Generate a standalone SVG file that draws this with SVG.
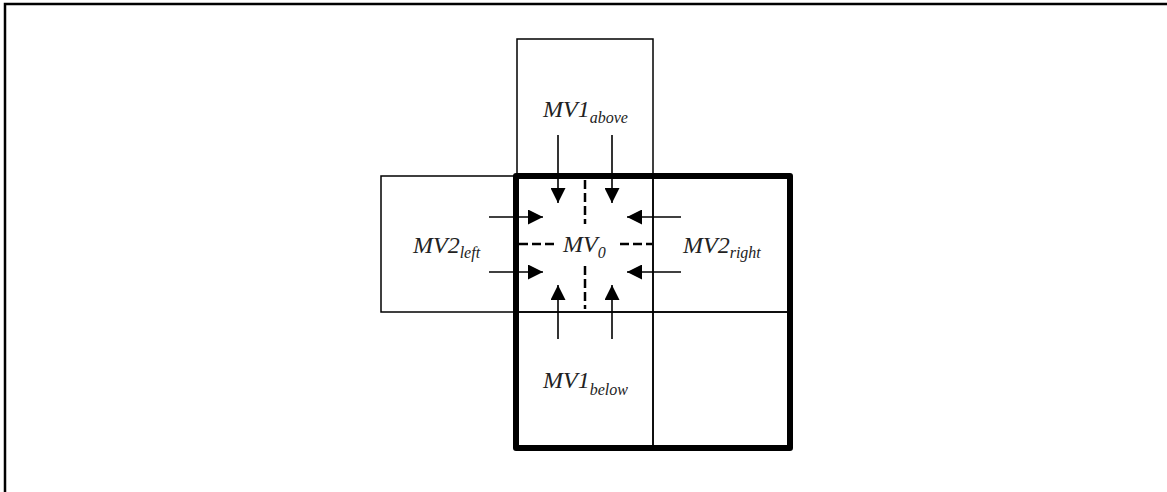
<svg xmlns="http://www.w3.org/2000/svg" width="1167" height="492" viewBox="0 0 1167 492">
<defs>
<style>
.thin{fill:none;stroke:#000;stroke-width:1.5}
.thick{fill:none;stroke:#000;stroke-width:6;stroke-linejoin:round}
.dash{fill:none;stroke:#000;stroke-width:2.5;stroke-dasharray:9 4}
.arr{fill:none;stroke:#000;stroke-width:1.6;marker-end:url(#ah)}
.lbl{font-family:"Liberation Serif","Times New Roman",serif;font-style:italic;font-size:24px;fill:#222}
.sub{font-size:16px}
</style>
<marker id="ah" viewBox="0 0 10 10" refX="10" refY="5" markerWidth="15" markerHeight="15" markerUnits="userSpaceOnUse" orient="auto">
<path d="M0,0 L10,5 L0,10 Z" fill="#000"/>
</marker>
</defs>
<rect width="1167" height="492" fill="#fff"/>
<path d="M5,492 V4 H1167" fill="none" stroke="#000" stroke-width="2.5"/>

<g id="above">
<rect class="thin" x="517" y="39" width="136" height="137"/>
<text class="lbl" x="543" y="117">MV1<tspan class="sub" dy="6">above</tspan></text>
</g>
<g id="left">
<rect class="thin" x="381" y="176" width="135" height="136"/>
<text class="lbl" x="413" y="253">MV2<tspan class="sub" dy="5">left</tspan></text>
</g>
<g id="right">
<rect class="thin" x="653" y="176" width="137" height="136"/>
<text class="lbl" x="683" y="253">MV2<tspan class="sub" dy="5">right</tspan></text>
</g>
<g id="below">
<rect class="thin" x="516" y="312" width="137" height="136"/>
<text class="lbl" x="543" y="388">MV1<tspan class="sub" dy="7">below</tspan></text>
</g>
<g id="belowright">
<rect class="thin" x="653" y="312" width="137" height="136"/>
</g>
<g id="current">
<rect class="thin" x="516" y="176" width="137" height="136"/>
<path class="dash" d="M585,180 V224 M585,266 V309"/>
<path class="dash" d="M519,244 H556 M620,244 H652"/>
<text class="lbl" x="563" y="252">MV<tspan class="sub" dy="6">0</tspan></text>
</g>
<g id="block">
<rect class="thick" x="516" y="176" width="274" height="272"/>
</g>

<g id="connectors">
<line class="arr" x1="558" y1="135" x2="558" y2="203"/>
<line class="arr" x1="612" y1="135" x2="612" y2="203"/>
<line class="arr" x1="489" y1="217" x2="543" y2="217"/>
<line class="arr" x1="489" y1="272" x2="543" y2="272"/>
<line class="arr" x1="681" y1="217" x2="627" y2="217"/>
<line class="arr" x1="681" y1="272" x2="627" y2="272"/>
<line class="arr" x1="558" y1="339" x2="558" y2="285"/>
<line class="arr" x1="612" y1="339" x2="612" y2="285"/>
</g>
</svg>
